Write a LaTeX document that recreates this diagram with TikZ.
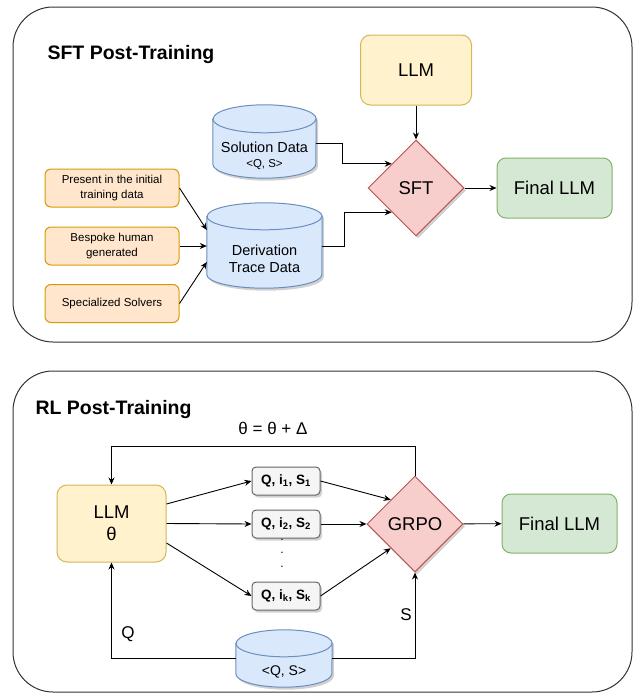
\documentclass[tikz,border=0pt]{standalone}
\usepackage{fontspec}
\setmainfont{Liberation Sans}
\usetikzlibrary{shapes.geometric,arrows.meta,shadows,backgrounds}
\definecolor{ylwfill}{HTML}{FFF2CC}
\definecolor{ylwline}{HTML}{D6B656}
\definecolor{orgfill}{HTML}{FFE6CC}
\definecolor{orgline}{HTML}{D79B00}
\definecolor{bluefill}{HTML}{DAE8FC}
\definecolor{blueline}{HTML}{6C8EBF}
\definecolor{redfill}{HTML}{F8CECC}
\definecolor{redline}{HTML}{B85450}
\definecolor{grnfill}{HTML}{D5E8D4}
\definecolor{grnline}{HTML}{82B366}
\definecolor{gryfill}{HTML}{F5F5F5}
\definecolor{gryline}{HTML}{666666}
\def\fs#1#2{\fontsize{#1}{#2}\selectfont}
\def\drum#1#2#3{%
  \begin{scope}[on background layer]
    \fill[black!60, opacity=0.3] ([xshift=2pt, yshift=#3-2.5pt]#1.north west) -- ([xshift=2pt, yshift=#3-2.5pt]#1.south west) arc (180:360:#2 and #3) -- ([xshift=2pt, yshift=#3-2.5pt]#1.north east) arc (0:180:#2 and #3) -- cycle;
    \filldraw[draw=blueline, fill=bluefill, line width=1pt] ([yshift=#3]#1.north west) -- ([yshift=#3]#1.south west) arc (180:360:#2 and #3) -- ([yshift=#3]#1.north east) arc (0:180:#2 and #3) -- cycle;
    \draw[blueline, line width=1pt] ([yshift=#3]#1.north west) arc (180:360:#2 and #3);
  \end{scope}}

\begin{document}
\begin{tikzpicture}[x=1pt, y=-1pt, >={Stealth[length=7pt, width=6pt]}]

                \tikzstyle{softshadow} = [drop shadow={shadow xshift=2pt, shadow yshift=-2.5pt, opacity=0.3, fill=black!60}]
                \tikzstyle{panel}  = [draw=black!80, line width=1pt, rounded corners=40pt]
                \tikzstyle{arr}    = [->, line width=0.9pt]
                \tikzstyle{llmbox} = [draw=ylwline, fill=ylwfill, rounded corners=10pt, line width=1pt, font=\fs{18.5}{22}, align=center]
                \tikzstyle{finalbox} = [draw=grnline, fill=grnfill, rounded corners=9pt, line width=1pt, minimum width=115pt, minimum height=60pt, font=\fs{18.5}{22}]
                \tikzstyle{srcbox} = [draw=orgline, fill=orgfill, rounded corners=6pt, line width=1pt, minimum width=134pt, minimum height=38pt, font=\fs{11.5}{14.5}, align=center]
                \tikzstyle{data}   = [inner sep=0pt, align=center]
                \tikzstyle{train}  = [diamond, aspect=1, draw=redline, fill=redfill, line width=1pt, minimum width=96pt, minimum height=96pt, inner sep=0pt, font=\fs{18.5}{22}, softshadow]
                \tikzstyle{sample} = [draw=gryline, fill=gryfill, rounded corners=4pt, line width=1pt, minimum width=68pt, minimum height=28pt, inner sep=1pt, font=\fs{13.5}{16}\bfseries, softshadow]

                \useasboundingbox (0,0) rectangle (637,696);

                \draw[panel] (13,7) rectangle (632,342);
                \node[anchor=west, font=\fs{19.5}{23}\bfseries] (sfttitle) at (44,55) {SFT Post-Training};
                \node[llmbox, minimum width=111pt, minimum height=70pt] (llm) at (416,70) {LLM};
                \node[data, minimum width=103pt, minimum height=45pt, font=\fs{14.5}{15}] (sol) at (264.5,155.5) {Solution Data\\{\fs{11.5}{15}<Q, S>}};
                \drum{sol}{51.5pt}{14pt}
                \node[train] (sft) at (416,188) {SFT};
                \node[finalbox] (final) at (554.5,188) {Final LLM};
                \node[data, minimum width=115pt, minimum height=58pt, font=\fs{14.5}{17.5}] (trace) at (264.5,259) {Derivation\\Trace Data};
                \drum{trace}{57.5pt}{13.5pt}
                \node[srcbox] (init) at (112,188) {Present in the initial\\training data};
                \node[srcbox] (human) at (112,246) {Bespoke human\\generated};
                \node[srcbox] (solver) at (112,303.5) {Specialized Solvers};
                \draw[arr] (init.east) -- ([yshift=29pt]trace.west);
                \draw[arr] (human.east) -- ([yshift=13pt]trace.west);
                \draw[arr] (solver.east) -- ([yshift=-3pt]trace.west);
                \draw[arr] ([yshift=12pt]sol.east) -- ++(26,0) |- (sft.north west);
                \draw[arr] ([yshift=13pt]trace.east) -- ++(22,0) |- (sft.south west);
                \draw[arr] (llm) -- (sft);
                \draw[arr] (sft) -- (final);

                \draw[panel] (13,371) rectangle (632,692);
                \node[anchor=west, font=\fs{19.5}{23}\bfseries] (rltitle) at (32,409) {RL Post-Training};
                \node[font=\fs{17}{20}] (update) at (273,428) {θ = θ + Δ};
                \node[llmbox, minimum width=109pt, minimum height=77pt] (policy) at (111.5,523.5) {LLM\\θ};
                \node[sample] (s1) at (286,481) {Q, i\textsubscript{1}, S\textsubscript{1}};
                \node[sample] (s2) at (286,524) {Q, i\textsubscript{2}, S\textsubscript{2}};
                \node[sample] (sk) at (286,596) {Q, i\textsubscript{k}, S\textsubscript{k}};
                \node[align=center, font=\fs{12}{13.5}] (dots) at (282,553) {.\\.\\.};
                \node[train] (grpo) at (415,524) {GRPO};
                \node[finalbox, minimum height=59pt] (rlfinal) at (559.5,523.5) {Final LLM};
                \node[data, minimum width=96pt, minimum height=30pt, font=\fs{14}{17}] (pairs) at (284,672) {<Q, S>};
                \drum{pairs}{48pt}{13.5pt}
                \node[font=\fs{17}{20}] (qlabel) at (128,634) {Q};
                \node[font=\fs{17}{20}] (slabel) at (406,615) {S};
                \draw[arr] ([yshift=19.5pt]policy.east) -- (s1.west);
                \draw[arr] (policy.east) -- (s2.west);
                \draw[arr] ([yshift=-19.5pt]policy.east) -- (sk.west);
                \draw[arr] (s1.east) -- (grpo.north west);
                \draw[arr] (s2.east) -- (grpo.west);
                \draw[arr] (sk.east) -- (grpo.south west);
                \draw[arr] (grpo) -- (rlfinal);
                \draw[arr] (grpo.north) -- ++(0,-29) -| (policy.north);
                \draw[arr] ([yshift=13.5pt]pairs.west) -| (policy.south);
                \draw[arr] ([yshift=13.5pt]pairs.east) -| (grpo.south);
\end{tikzpicture}
\end{document}
